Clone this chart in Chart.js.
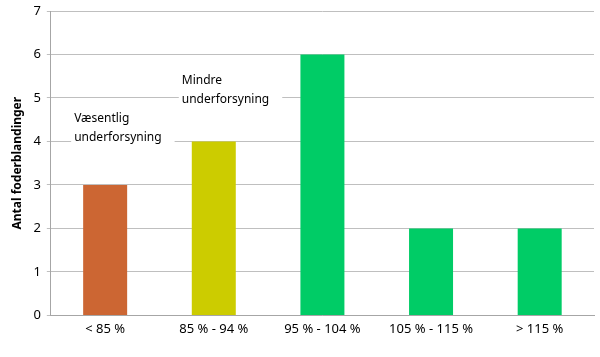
<!DOCTYPE html>
<html><head><meta charset="utf-8">
<script src="https://cdn.jsdelivr.net/npm/chart.js@4/dist/chart.umd.min.js"></script>
<style>html,body{margin:0;padding:0;background:#fff}#wrap{width:600px;height:357px}</style>
</head><body><div id="wrap"><canvas id="c"></canvas></div>
<script>
const categories = ['< 85 %', '85 % - 94 %', '95 % - 104 %', '105 % - 115 %', '> 115 %'];
const values = [3, 4, 6, 2, 2];
const barColors = ['#CC6633', '#CCCC00', '#00CC66', '#00CC66', '#00CC66'];
const yTicks = [0, 1, 2, 3, 4, 5, 6, 7];
const yTitle = 'Antal foderblandinger';
const noteTexts = [['Væsentlig', 'underforsyning'], ['Mindre', 'underforsyning']];
const FONT = '"Noto Sans", sans-serif';

const notePlugin = {
  id: 'notes',
  afterDraw(chart) {
    const ctx = chart.ctx, xs = chart.scales.x, ys = chart.scales.y;
    const place = [{cat: 0, at: 4, dx: -31, dy: -23}, {cat: 1, at: 5, dx: -32, dy: -17}];
    ctx.save();
    ctx.font = '12px ' + FONT;
    ctx.textBaseline = 'middle';
    ctx.textAlign = 'left';
    noteTexts.forEach((lines, k) => {
      const p = place[k];
      const left = xs.getPixelForValue(p.cat) + p.dx;
      const top = ys.getPixelForValue(p.at) + p.dy;
      const w = Math.max(...lines.map(l => ctx.measureText(l).width));
      ctx.fillStyle = '#fff';
      ctx.fillRect(left - 3, top - 8, w + 16, 19 * lines.length);
      ctx.fillStyle = '#000';
      lines.forEach((l, i) => ctx.fillText(l, left, top + i * 19));
    });
    ctx.restore();
  }
};

new Chart(document.getElementById('c'), {
  type: 'bar',
  data: {
    labels: categories,
    datasets: [{data: values, backgroundColor: barColors, borderWidth: 0,
      barPercentage: 0.405, categoryPercentage: 1}]
  },
  options: {
    responsive: true, maintainAspectRatio: false, animation: false,
    layout: {padding: {top: 0, right: 6, bottom: 14, left: 10}},
    plugins: {legend: {display: false}, tooltip: {enabled: false}},
    scales: {
      x: {
        grid: {display: false, drawTicks: false},
        border: {color: '#A6A6A6', width: 1},
        ticks: {color: '#000', font: {family: FONT, size: 13}, padding: 6, maxRotation: 0}
      },
      y: {
        min: 0, max: 7,
        afterBuildTicks(s) { s.ticks = yTicks.map(v => ({value: v})); },
        afterFit(s) { s.paddingTop = 11; },
        grid: {color: '#BFBFBF', tickLength: 4},
        border: {color: '#A6A6A6', width: 1},
        ticks: {color: '#000', font: {family: FONT, size: 13}, padding: 6},
        title: {display: true, text: yTitle, color: '#000', font: {family: FONT, size: 12, weight: 'bold'}, padding: {top: 0, bottom: 3}}
      }
    }
  },
  plugins: [notePlugin]
});
</script></body></html>
